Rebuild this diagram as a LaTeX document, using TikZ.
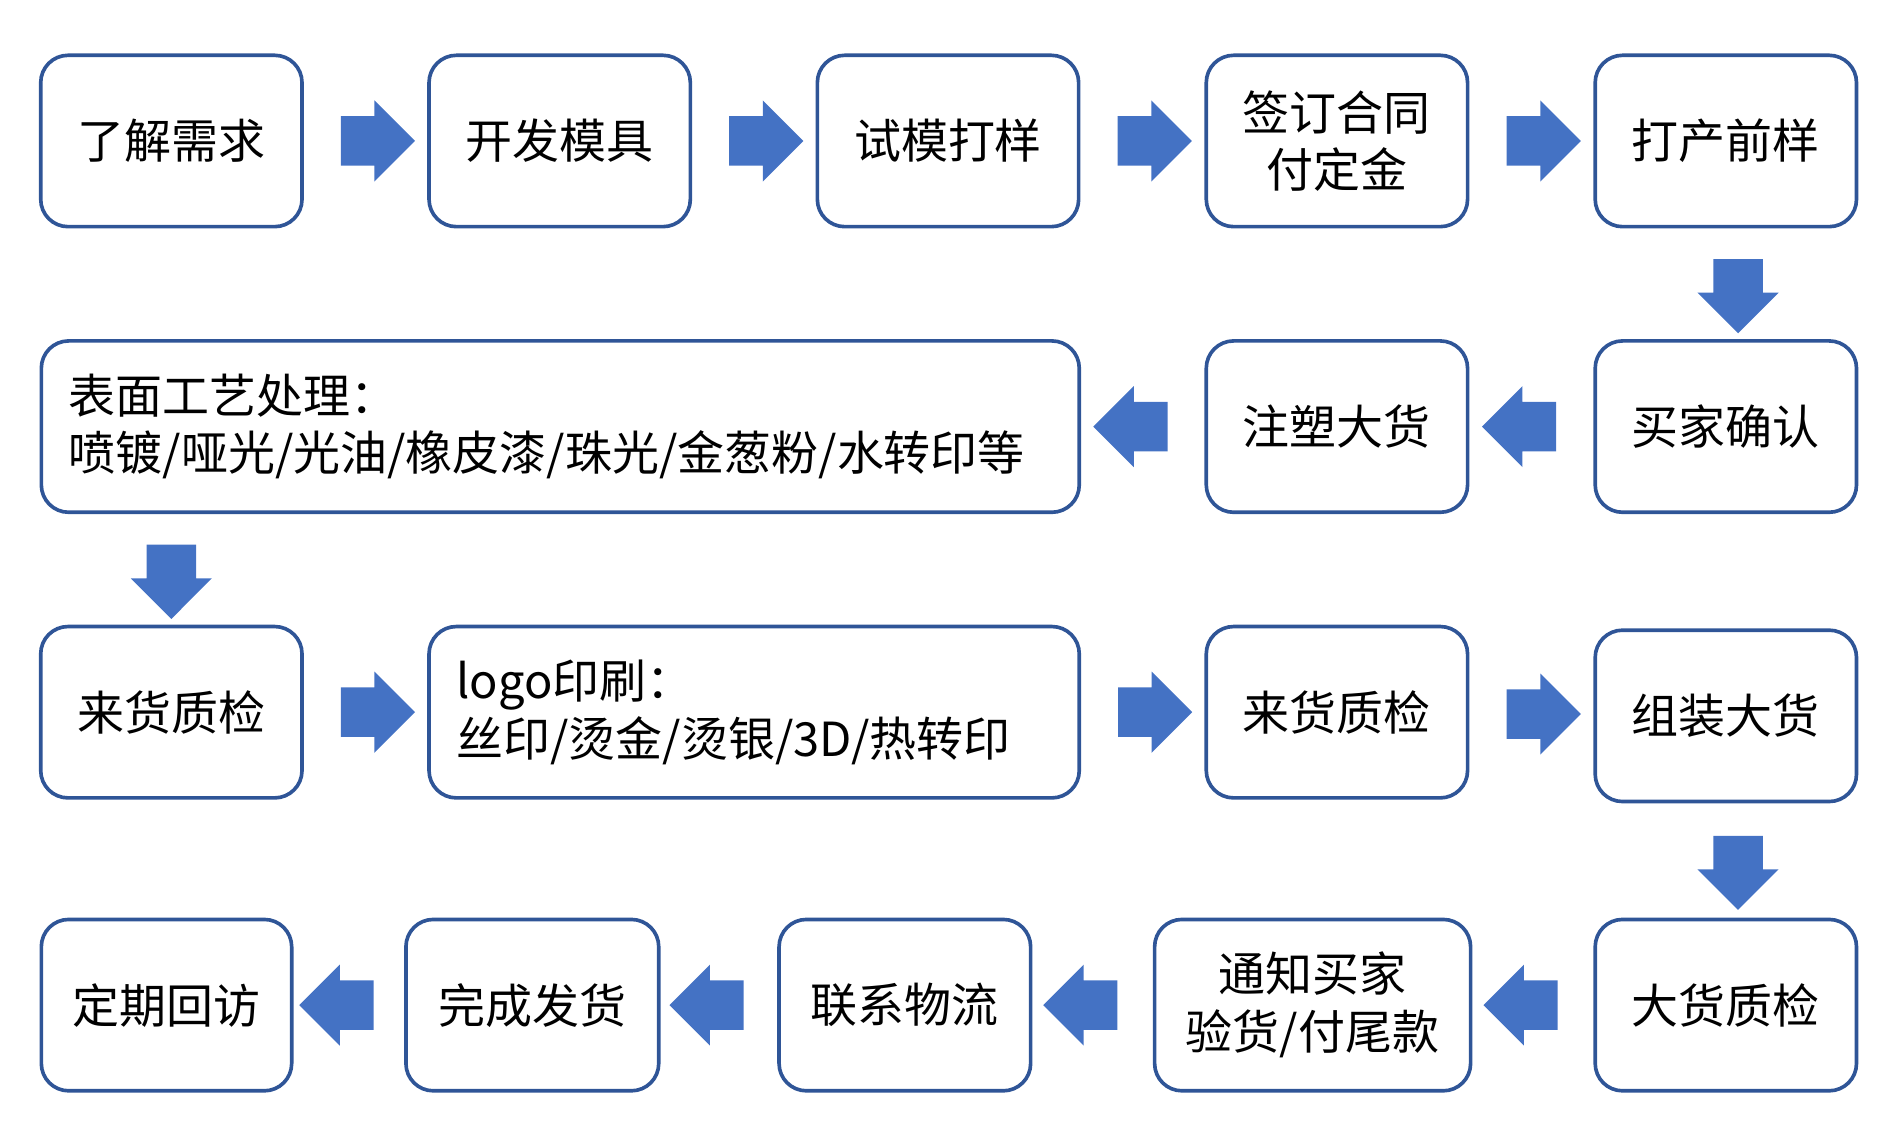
\documentclass[tikz,border=0pt]{standalone}
\usepackage{fontspec}
\setmainfont{Noto Sans CJK SC}
\usetikzlibrary{positioning,shapes.arrows,calc}
\definecolor{boxblue}{RGB}{47,85,151}
\definecolor{arrowblue}{RGB}{68,114,196}

\begin{document}
\begin{tikzpicture}[
    stage/.style={draw=boxblue,line width=0.06cm,rounded corners=0.45cm,minimum height=2.82cm,align=center,font=\fontsize{22}{27}\selectfont},
    wide/.style={stage,align=left,inner xsep=0.45cm},
    flow/.style={single arrow,fill=arrowblue,inner sep=0.4cm,minimum width=1.32cm,minimum height=1.14cm,single arrow head extend=0.26cm}
]
    \useasboundingbox (0,0) rectangle (31.2,18.52);
    % Row 1
    \node[stage,minimum width=4.3cm] (need) at (2.82,16.2) {了解需求};
    \node[stage,minimum width=4.3cm] (mold) at (9.21,16.2) {开发模具};
    \node[stage,minimum width=4.3cm] (trial) at (15.6,16.2) {试模打样};
    \node[stage,minimum width=4.3cm] (contract) at (22.0,16.2) {签订合同\\付定金};
    \node[stage,minimum width=4.3cm] (presample) at (28.4,16.2) {打产前样};
    % Row 2
    \node[stage,minimum width=4.3cm] (confirm) at (28.4,11.5) {买家确认};
    \node[stage,minimum width=4.3cm] (inject) at (22.0,11.5) {注塑大货};
    \node[wide,text width=16.18cm] (surface) at (9.22,11.5) {表面工艺处理：\\喷镀/哑光/光油/橡皮漆/珠光/金葱粉/水转印等};
    % Row 3
    \node[stage,minimum width=4.3cm] (check1) at (2.82,6.8) {来货质检};
    \node[wide,text width=9.8cm] (logo) at (12.41,6.8) {logo印刷：\\丝印/烫金/烫银/3D/热转印};
    \node[stage,minimum width=4.3cm] (check2) at (22.0,6.8) {来货质检};
    \node[stage,minimum width=4.3cm] (assemble) at (28.4,6.74) {组装大货};
    % Row 4
    \node[stage,minimum width=4.3cm] (bulkcheck) at (28.4,1.98) {大货质检};
    \node[stage,minimum width=5.2cm] (notify) at (21.6,1.98) {通知买家\\验货/付尾款};
    \node[stage,minimum width=4.14cm] (logistics) at (14.89,1.98) {联系物流};
    \node[stage,minimum width=4.16cm] (ship) at (8.76,1.98) {完成发货};
    \node[stage,minimum width=4.12cm] (visit) at (2.74,1.98) {定期回访};

    % Block arrows
    \node[flow] (a1) at ($(need.east)!0.5!(mold.west)$) {};
    \node[flow] (a2) at ($(mold.east)!0.5!(trial.west)$) {};
    \node[flow] (a3) at ($(trial.east)!0.5!(contract.west)$) {};
    \node[flow] (a4) at ($(contract.east)!0.5!(presample.west)$) {};
    \node[flow,shape border rotate=270,xshift=0.2cm] (a5) at ($(presample.south)!0.5!(confirm.north)$) {};
    \node[flow,shape border rotate=180] (a6) at ($(confirm.west)!0.5!(inject.east)$) {};
    \node[flow,shape border rotate=180] (a7) at ($(inject.west)!0.5!(surface.east)$) {};
    \node[flow,shape border rotate=270] (a8) at ($(check1.north)!0.5!(check1.north|-surface.south)$) {};
    \node[flow] (a9) at ($(check1.east)!0.5!(logo.west)$) {};
    \node[flow] (a10) at ($(logo.east)!0.5!(check2.west)$) {};
    \node[flow] (a11) at ($(check2.east)!0.5!(assemble.west)$) {};
    \node[flow,shape border rotate=270,xshift=0.2cm] (a12) at ($(assemble.south)!0.5!(bulkcheck.north)$) {};
    \node[flow,shape border rotate=180] (a13) at ($(bulkcheck.west)!0.5!(notify.east)$) {};
    \node[flow,shape border rotate=180] (a14) at ($(notify.west)!0.5!(logistics.east)$) {};
    \node[flow,shape border rotate=180] (a15) at ($(logistics.west)!0.5!(ship.east)$) {};
    \node[flow,shape border rotate=180] (a16) at ($(ship.west)!0.5!(visit.east)$) {};
\end{tikzpicture}
\end{document}
